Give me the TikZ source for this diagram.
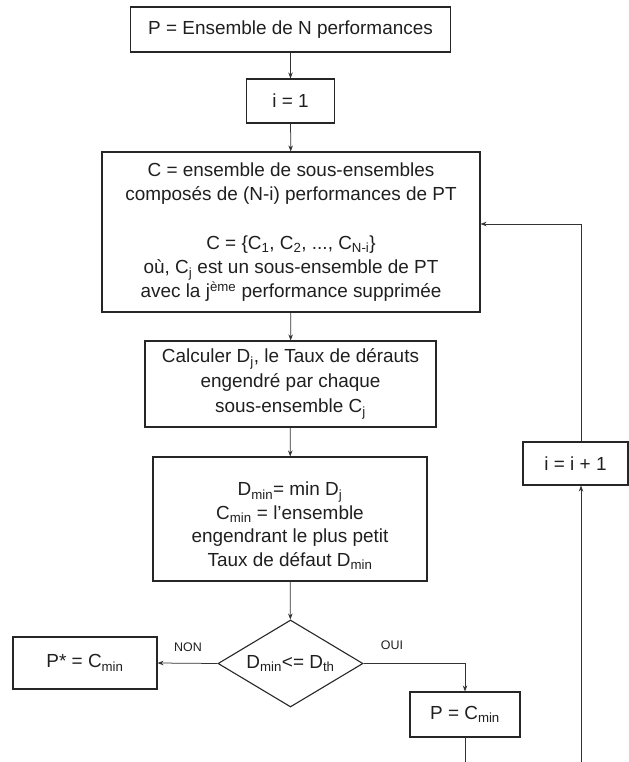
\documentclass[tikz,border=0pt]{standalone}
\usepackage{fontspec}
\setmainfont{Liberation Sans}
\usetikzlibrary{arrows.meta,shapes.geometric}
\newcommand{\sbs}[1]{\textsubscript{#1}}
\newcommand{\sps}[1]{\textsuperscript{#1}}
\begin{document}
\begin{tikzpicture}[x=1bp,y=-1bp,
  every node/.style={text=black!88},
  box/.style={draw=black!85,line width=1.1bp,inner sep=0pt,align=center,
     font=\fontsize{19}{24}\selectfont},
  txt/.style={inner sep=0pt,align=center,font=\fontsize{19}{24}\selectfont},
  dec/.style={draw=black!85,line width=1.1bp,diamond,inner sep=0pt,shape aspect=1.67,
     font=\fontsize{19}{24}\selectfont},
  conn/.style={draw=black!80,line width=0.75bp,-{Stealth[length=6bp,width=4.5bp]}},
  plain/.style={draw=black!80,line width=0.75bp},
  lab/.style={font=\fontsize{12.5}{14}\selectfont,inner sep=0pt}
]
\useasboundingbox (0,0) rectangle (629,762);
\node[box,minimum width=320bp,minimum height=45bp] (p) at (290.5,29.5) {P = Ensemble de N performances};
\node[box,minimum width=88bp,minimum height=44bp] (i1) at (290.5,101) {i = 1};
\node[box,minimum width=378bp,minimum height=160bp,font=\fontsize{19}{24.4}\selectfont] (C) at (291,232)
  {C = ensemble de sous-ensembles\\composés de (N-i) performances de PT\\[24.4bp]
   C = \{C\sbs{1}, C\sbs{2}, ..., C\sbs{N-i}\}\\où, C\sbs{j} est un sous-ensemble de PT\\
   avec la j\sps{ème} performance supprimée};
\node[box,minimum width=291bp,minimum height=86bp,font=\fontsize{19}{25}\selectfont] (calc) at (290.5,384)
  {Calculer D\sbs{j}, le Taux de dérauts\\engendré par chaque\\sous-ensemble C\sbs{j}};
\node[box,minimum width=274bp,minimum height=124bp] (dm) at (290,519) {};
\node[txt,font=\fontsize{19}{23.5}\selectfont] (dmt) at (290,526)
  {D\sbs{min}= min D\sbs{j}\\C\sbs{min} = l’ensemble\\engendrant le plus petit\\Taux de défaut D\sbs{min}};
\node[dec,minimum width=145bp,minimum height=87bp] (dec) at (290.5,663.5) {D\sbs{min}<= D\sbs{th}};
\node[box,minimum width=144bp,minimum height=52bp] (ps) at (85,663) {P* = C\sbs{min}};
\node[box,minimum width=110bp,minimum height=45bp] (pc) at (465,714.5) {P = C\sbs{min}};
\node[box,minimum width=105bp,minimum height=43bp] (ii) at (575.5,463.5) {i = i + 1};
\node[lab] (non) at (188,647) {NON};
\node[lab] (oui) at (392,645) {OUI};
\coordinate (bl) at (465,762);
\coordinate (br) at (581,762);
\coordinate (tr) at (581,224);
\draw[conn] (p) -- (i1);
\draw[conn] (i1) -- (C);
\draw[conn] (C) -- (calc);
\draw[conn] (calc) -- (dm);
\draw[conn] (dm) -- (dec);
\draw[conn] (dec.west) -- (ps.east);
\draw[conn] (dec.east) -| (pc.north);
\draw[plain] (pc.south) -- (bl);
\draw[conn] (br) -- (br |- ii.south);
\draw[conn] (ii.north -| tr) -- (tr) -- (tr -| C.east);
\end{tikzpicture}
\end{document}
